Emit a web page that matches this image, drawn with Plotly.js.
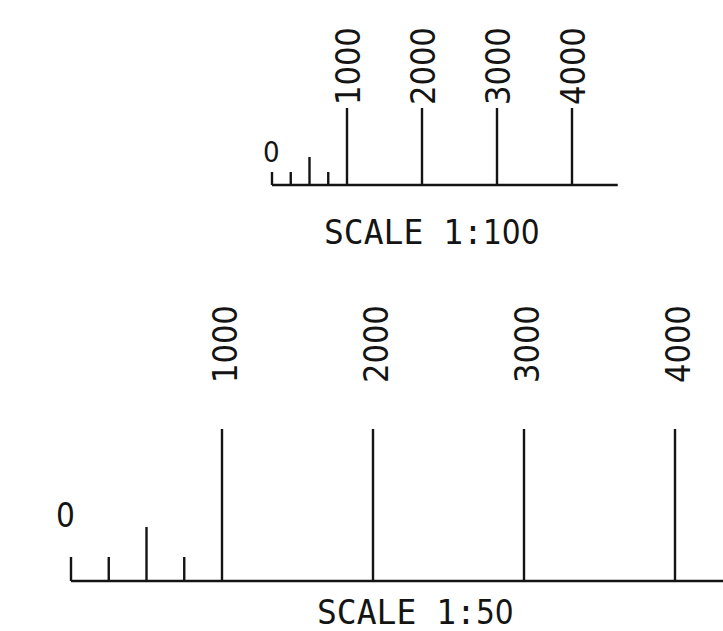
<!DOCTYPE html>
<html>
<head>
<meta charset="utf-8">
<script src="https://cdn.plot.ly/plotly-3.0.1.min.js"></script>
<style>html,body{margin:0;padding:0;background:#fff;}#chart{width:723px;height:631px;}</style>
</head>
<body>
<div id="chart"></div>
<script>
// ---- data ----
const tickValues = [0, 250, 500, 750, 1000, 2000, 3000, 4000];
const tickKinds = ['minor', 'minor', 'mid', 'minor', 'major', 'major', 'major', 'major'];
const labelValues = [0, 1000, 2000, 3000, 4000];
const labelTexts = ['0', '1000', '2000', '3000', '4000'];
const scaleEnd = 4610;
const scaleWords = ['SCALE 1:', 'SCALE 1:'];
const scaleDenoms = ['100', '50'];

// ---- styles ----
const ink = '#141414';
const fontFam = '"DejaVu Sans Condensed", "DejaVu Sans", sans-serif';
const monoFam = '"DejaVu Sans Mono", monospace';
const scales = [
  {xa: 'x', ya: 'y', heights: {minor: 13, mid: 28, major: 77}, labelY: 119, zeroY: 33, zeroShift: -1, zeroSize: 29, labelShift: 1, title: {x: 0.5975, y: 1 - 233 / 631}},
  {xa: 'x2', ya: 'y2', heights: {minor: 24, mid: 54, major: 152}, labelY: 237, zeroY: 66, zeroShift: -6, zeroSize: 33, labelShift: 3, title: {x: 0.574, y: 1 - 612 / 631}}
];

const traces = [];
const annotations = [];
scales.forEach((s, i) => {
  const xs = [], ys = [];
  tickValues.forEach((v, k) => {
    xs.push(v, v, null);
    ys.push(0, s.heights[tickKinds[k]], null);
  });
  xs.push(0, scaleEnd);
  ys.push(0, 0);
  traces.push({x: xs, y: ys, xaxis: s.xa, yaxis: s.ya, mode: 'lines',
    line: {color: ink, width: 2.4}, hoverinfo: 'skip', showlegend: false});
  labelValues.forEach((v, k) => {
    const isZero = v === 0;
    annotations.push({
      x: v, y: isZero ? s.zeroY : s.labelY, xref: s.xa, yref: s.ya,
      text: labelTexts[k], showarrow: false,
      textangle: isZero ? 0 : -90,
      xanchor: 'center', yanchor: 'middle', borderpad: 0,
      xshift: isZero ? s.zeroShift : s.labelShift,
      font: {family: fontFam, size: isZero ? s.zeroSize : 34, color: ink}
    });
  });
  annotations.push({
    x: s.title.x, y: s.title.y, xref: 'paper', yref: 'paper',
    text: scaleWords[i] + '<span style="font-family:\'DejaVu Sans Condensed\'">' + scaleDenoms[i] + '</span>',
    showarrow: false, xanchor: 'center', yanchor: 'middle', borderpad: 0,
    font: {family: monoFam, size: 33, color: ink}
  });
});

const layout = {
  width: 723, height: 631,
  margin: {l: 0, r: 0, t: 0, b: 0, pad: 0},
  paper_bgcolor: '#ffffff', plot_bgcolor: '#ffffff',
  showlegend: false,
  xaxis: {domain: [0, 1], range: [-272 / 0.075, (723 - 272) / 0.075], visible: false, anchor: 'y', fixedrange: true},
  yaxis: {domain: [1 - 195 / 631, 1], range: [-10, 185], visible: false, anchor: 'x', fixedrange: true},
  xaxis2: {domain: [0, 1], range: [-71 / 0.151, (723 - 71) / 0.151], visible: false, anchor: 'y2', fixedrange: true},
  yaxis2: {domain: [0, 1 - 290 / 631], range: [-50, 291], visible: false, anchor: 'x2', fixedrange: true},
  annotations: annotations
};

Plotly.newPlot('chart', traces, layout, {displayModeBar: false, staticPlot: true});
</script>
</body>
</html>
